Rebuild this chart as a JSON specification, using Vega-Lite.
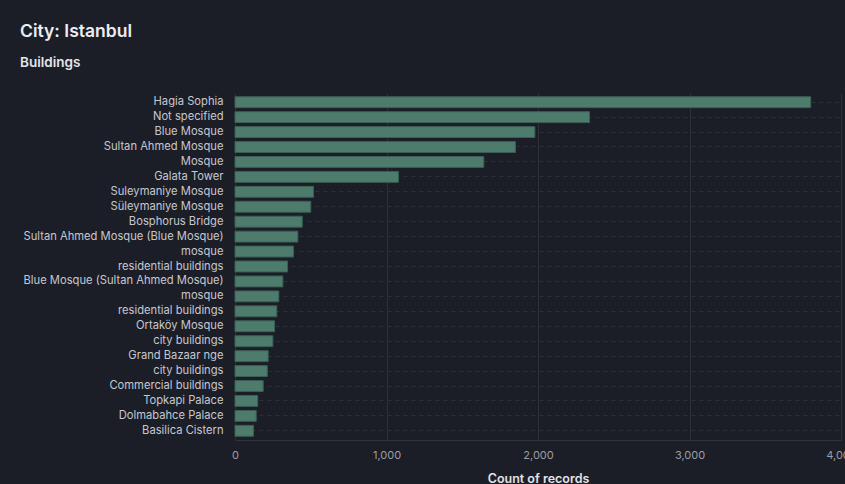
{
  "$schema": "https://vega.github.io/schema/vega-lite/v6.json",
  "autosize": "none",
  "width": 606,
  "height": 347,
  "padding": {"left": 235, "top": 93, "right": 4, "bottom": 44},
  "background": "#1c1e27",
  "title": {
    "text": "City: Istanbul",
    "subtitle": "Buildings",
    "anchor": "start",
    "frame": "group",
    "dx": -215,
    "offset": 24,
    "font": "Inter",
    "fontSize": 17.5,
    "fontWeight": 600,
    "color": "#ecedf2",
    "subtitleFont": "Inter",
    "subtitleFontSize": 13.5,
    "subtitleFontWeight": 600,
    "subtitleColor": "#e4e5ea",
    "subtitlePadding": 15
  },
  "data": {
    "values": [
      {"building": "Hagia Sophia", "count": 3800},
      {"building": "Not specified", "count": 2340},
      {"building": "Blue Mosque", "count": 1979},
      {"building": "Sultan Ahmed Mosque", "count": 1851},
      {"building": "Mosque", "count": 1642},
      {"building": "Galata Tower", "count": 1079},
      {"building": "Suleymaniye Mosque", "count": 518},
      {"building": "Süleymaniye Mosque", "count": 500},
      {"building": "Bosphorus Bridge", "count": 444},
      {"building": "Sultan Ahmed Mosque (Blue Mosque)", "count": 415},
      {"building": "mosque", "count": 386},
      {"building": "residential buildings", "count": 347},
      {"building": "Blue Mosque (Sultan Ahmed  Mosque)", "count": 316},
      {"building": "mosque\u200b", "count": 289},
      {"building": "residential buildings\u200b", "count": 276},
      {"building": "Ortaköy Mosque", "count": 261},
      {"building": "city buildings", "count": 250},
      {"building": "Grand Bazaar nge", "count": 219},
      {"building": "city buildings\u200b", "count": 213},
      {"building": "Commercial buildings", "count": 186},
      {"building": "Topkapi Palace", "count": 150},
      {"building": "Dolmabahce Palace", "count": 140},
      {"building": "Basilica Cistern", "count": 122}
    ]
  },
  "mark": {"type": "bar", "color": "#4d7c6d", "stroke": "#3b5f54", "strokeWidth": 1},
  "encoding": {
    "y": {
      "field": "building",
      "type": "nominal",
      "sort": "-x",
      "scale": {"paddingInner": 0.27, "paddingOuter": 0.25},
      "axis": {
        "title": null,
        "ticks": false,
        "domain": false,
        "labelPadding": 12,
        "labelFont": "Inter",
        "labelFontSize": 11.2,
        "labelColor": "#c6c8d0",
        "grid": true,
        "gridColor": "#2d2f39",
        "gridDash": [4, 4],
        "bandPosition": 0.5,
        "labelLimit": 300
      }
    },
    "x": {
      "field": "count",
      "type": "quantitative",
      "scale": {"domain": [0, 4000]},
      "axis": {
        "title": "Count of records",
        "values": [0, 1000, 2000, 3000, 4000],
        "format": ",d",
        "ticks": false,
        "domainColor": "#30323c",
        "labelPadding": 9,
        "labelFont": "Inter",
        "labelFontSize": 11,
        "labelColor": "#9b9da6",
        "labelFlush": false,
        "labelOverlap": false,
        "gridColor": "#2e3039",
        "titleFont": "Inter",
        "titleFontSize": 12.5,
        "titleFontWeight": 600,
        "titleColor": "#e2e3e8",
        "titlePadding": 12
      }
    }
  },
  "config": {
    "view": {"stroke": null}
  }
}
